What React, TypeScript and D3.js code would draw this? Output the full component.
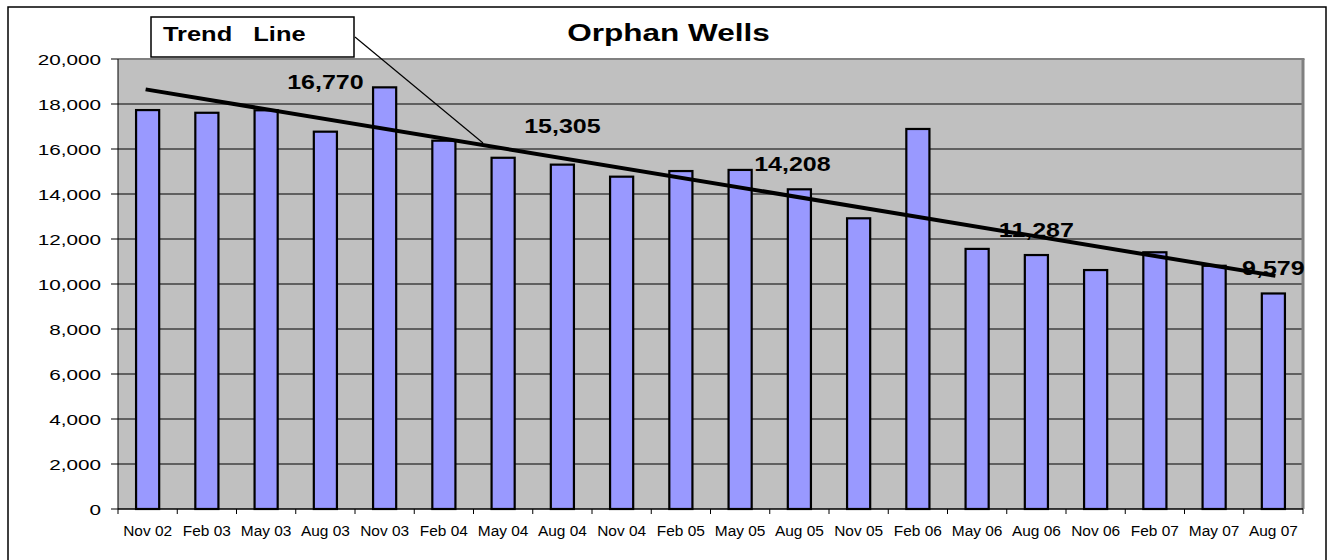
import React, { useEffect, useRef } from 'react';
import * as d3 from 'd3';

const categories = [
  'Nov 02', 'Feb 03', 'May 03', 'Aug 03', 'Nov 03', 'Feb 04', 'May 04', 'Aug 04', 'Nov 04', 'Feb 05',
  'May 05', 'Aug 05', 'Nov 05', 'Feb 06', 'May 06', 'Aug 06', 'Nov 06', 'Feb 07', 'May 07', 'Aug 07'
];
const wells = [
  17730, 17610, 17720, 16770, 18740, 16370, 15610, 15305, 14770, 15020,
  15070, 14208, 12920, 16890, 11560, 11287, 10620, 11410, 10810, 9579
];
const labeled = ['Aug 03', 'Aug 04', 'Aug 05', 'Aug 06', 'Aug 07'];
const trendEnds = [18650, 10360];
const yTicks = [0, 2000, 4000, 6000, 8000, 10000, 12000, 14000, 16000, 18000, 20000];

const FONT = "'Liberation Sans', Arial, sans-serif";
const dim = { left: 118, right: 1303, top: 59, bottom: 509 };

function stretched(g, x, y, text, size, sx, anchor, weight) {
  return g.append('text')
    .attr('transform', `translate(${x},${y}) scale(${sx},1)`)
    .attr('text-anchor', anchor)
    .attr('font-family', FONT)
    .attr('font-size', size)
    .attr('font-weight', weight)
    .style('white-space', 'pre')
    .text(text);
}

function draw(node) {
  const svg = d3.select(node);
  svg.selectAll('*').remove();

  const x = d3.scaleBand().domain(categories).range([dim.left, dim.right])
    .paddingInner(0.61).paddingOuter(0.305);
  const y = d3.scaleLinear().domain([0, 20000]).range([dim.bottom, dim.top]);
  const step = x.step();

  // outer frame
  svg.append('rect').attr('x', 8).attr('y', 7).attr('width', 1318).attr('height', 600)
    .attr('fill', 'white').attr('stroke', 'black').attr('stroke-width', 1.5);

  // plot area
  svg.append('rect').attr('x', dim.left).attr('y', dim.top)
    .attr('width', dim.right - dim.left).attr('height', dim.bottom - dim.top)
    .attr('fill', '#c0c0c0');

  svg.append('g').selectAll('line').data(yTicks.filter(d => d > 0 && d < 20000)).enter().append('line')
    .attr('x1', dim.left).attr('x2', dim.right)
    .attr('y1', d => y(d)).attr('y2', d => y(d))
    .attr('stroke', 'black').attr('stroke-width', 1);

  // plot border: gray top/right
  svg.append('line').attr('x1', dim.left).attr('x2', dim.right + 1.5).attr('y1', dim.top).attr('y2', dim.top)
    .attr('stroke', '#808080').attr('stroke-width', 2);
  svg.append('line').attr('x1', dim.right).attr('x2', dim.right).attr('y1', dim.top).attr('y2', dim.bottom)
    .attr('stroke', '#808080').attr('stroke-width', 3);

  // bars
  svg.append('g').selectAll('rect').data(wells).enter().append('rect')
    .attr('x', (d, i) => x(categories[i]))
    .attr('y', d => y(d))
    .attr('width', x.bandwidth())
    .attr('height', d => dim.bottom - y(d))
    .attr('fill', '#9999ff').attr('stroke', 'black').attr('stroke-width', 2.2);

  // axes
  svg.append('line').attr('x1', dim.left).attr('x2', dim.left).attr('y1', dim.top).attr('y2', dim.bottom)
    .attr('stroke', 'black').attr('stroke-width', 1);
  svg.append('line').attr('x1', dim.left).attr('x2', dim.right).attr('y1', dim.bottom).attr('y2', dim.bottom)
    .attr('stroke', 'black').attr('stroke-width', 1.5);

  const yAxis = svg.append('g');
  yTicks.forEach(t => {
    yAxis.append('line').attr('x1', dim.left - 7).attr('x2', dim.left).attr('y1', y(t)).attr('y2', y(t))
      .attr('stroke', 'black').attr('stroke-width', 1);
    stretched(yAxis, 101, y(t) + 5.5, d3.format(',')(t), 15, 1.38, 'end', 'normal');
  });

  const xAxis = svg.append('g');
  d3.range(categories.length + 1).forEach(i => {
    const tx = dim.left + i * step;
    xAxis.append('line').attr('x1', tx).attr('x2', tx).attr('y1', dim.bottom).attr('y2', dim.bottom + 5)
      .attr('stroke', 'black').attr('stroke-width', 1);
  });
  categories.forEach(c => {
    stretched(xAxis, x(c) + x.bandwidth() / 2, 535.5, c, 15, 1.03, 'middle', 'normal');
  });

  // trend line
  const first = categories[0], last = categories[categories.length - 1];
  svg.append('line')
    .attr('x1', x(first) + x.bandwidth() / 2 - 2).attr('y1', y(trendEnds[0]))
    .attr('x2', x(last) + x.bandwidth() / 2 + 2).attr('y2', y(trendEnds[1]))
    .attr('stroke', 'black').attr('stroke-width', 4);

  // value labels
  const nudge = { 'Aug 03': [0, -25], 'Aug 04': [0, -14], 'Aug 05': [-7, 0] };
  labeled.forEach(c => {
    const i = categories.indexOf(c);
    const n = nudge[c] || [0, 0];
    stretched(svg, x(c) + x.bandwidth() / 2 + n[0], y(wells[i]) - 18 + n[1],
      d3.format(',')(wells[i]), 20, 1.25, 'middle', 'bold');
  });

  // callout
  svg.append('line').attr('x1', 355).attr('y1', 37).attr('x2', 483).attr('y2', 143)
    .attr('stroke', 'black').attr('stroke-width', 1.2);
  svg.append('rect').attr('x', 151).attr('y', 17).attr('width', 203).attr('height', 40)
    .attr('fill', 'white').attr('stroke', 'black').attr('stroke-width', 1.5);
  stretched(svg, 163, 40.5, 'Trend   Line', 20, 1.27, 'start', 'bold');

  // title
  stretched(svg, 668.5, 41, 'Orphan Wells', 23, 1.37, 'middle', 'bold');
}

export default function App() {
  const ref = useRef(null);
  useEffect(() => {
    draw(ref.current);
  }, []);
  return (
    <svg ref={ref} width={1335} height={560}
      style={{ position: 'absolute', left: 0, top: 0, background: 'white' }} />
  );
}
